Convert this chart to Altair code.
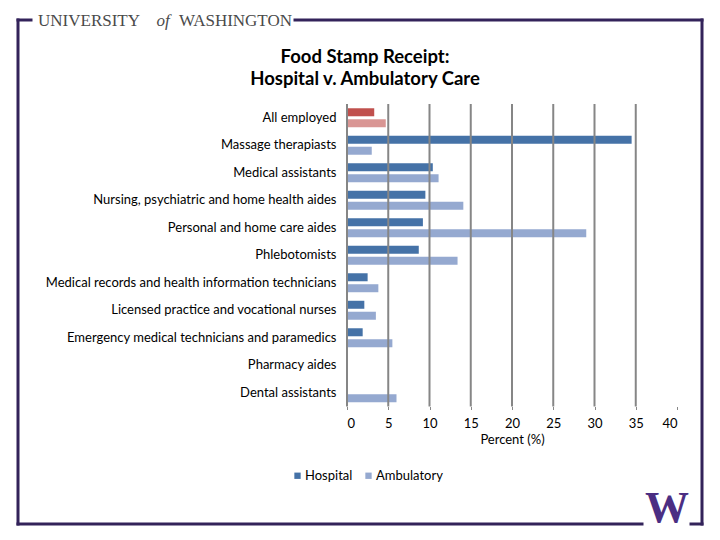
import altair as alt
import pandas as pd

categories = [
    "All employed",
    "Massage therapiasts",
    "Medical assistants",
    "Nursing, psychiatric and home health aides",
    "Personal and home care aides",
    "Phlebotomists",
    "Medical records and health information technicians",
    "Licensed practice and vocational nurses",
    "Emergency medical technicians and paramedics",
    "Pharmacy aides",
    "Dental assistants",
]
hospital = [3.3, 34.5, 10.4, 9.5, 9.2, 8.7, 2.5, 2.1, 1.9, 0.0, 0.0]
ambulatory = [4.7, 3.0, 11.1, 14.1, 29.0, 13.4, 3.8, 3.5, 5.5, 0.0, 6.0]
series = ["Hospital", "Ambulatory"]
x_ticks = [0, 5, 10, 15, 20, 25, 30, 35, 40]
grid_values = [0, 5, 10, 15, 20, 25, 30, 35]

color_domain = ["Hospital", "Ambulatory", "All employed Hospital", "All employed Ambulatory"]
color_range = ["#4572A7", "#95A9D0", "#C0504D", "#D99694"]

rows = []
for c, h, a in zip(categories, hospital, ambulatory):
    for s, v in zip(series, [h, a]):
        key = ("All employed " + s) if c == "All employed" else s
        rows.append({"category": c, "series": s, "value": v, "colorKey": key})
df = pd.DataFrame(rows)

FONT = "Lato"
FS = 13

bars = alt.Chart(df).mark_bar().encode(
    x=alt.X(
        "value:Q",
        scale=alt.Scale(domain=[0, 40], nice=False),
        axis=alt.Axis(
            values=x_ticks, grid=False, domain=False, tickSize=3, tickColor="#888888",
            labelFont=FONT, labelFontSize=FS, labelColor="black", labelPadding=8,
            title="Percent (%)", titleFont=FONT, titleFontWeight="normal",
            titleFontSize=FS, titleColor="black", titlePadding=3,
        ),
    ),
    y=alt.Y(
        "category:N", sort=categories,
        scale=alt.Scale(paddingInner=0.31, paddingOuter=0.155),
        axis=alt.Axis(
            title=None, domain=False, ticks=False, labelPadding=11,
            labelFont=FONT, labelFontSize=FS, labelColor="black", labelLimit=400,
        ),
    ),
    yOffset=alt.YOffset("series:N", sort=series, scale=alt.Scale(paddingInner=0.27, paddingOuter=0)),
    color=alt.Color(
        "colorKey:N",
        scale=alt.Scale(domain=color_domain, range=color_range),
        legend=alt.Legend(
            values=series, orient="none", legendX=-56, legendY=365,
            direction="horizontal", title=None, symbolType="square", symbolSize=40,
            labelFont=FONT, labelFontSize=FS, labelColor="black",
            columnPadding=9, labelOffset=1, symbolStrokeWidth=0,
        ),
    ),
)

grid = alt.Chart(pd.DataFrame({"g": grid_values})).mark_rule(
    color="#868686", strokeWidth=2
).encode(x=alt.X("g:Q", title="Percent (%)"))

one = pd.DataFrame({"a": [0]})
PURPLE = "#33235A"


def seg(x1, x2, y1, y2):
    return alt.Chart(one).mark_rule(color=PURPLE, strokeWidth=3, strokeCap="square").encode(
        x=alt.value(x1), x2=alt.value(x2), y=alt.value(y1), y2=alt.value(y2)
    )


frame = [
    seg(-329, -316, -84, -84),
    seg(-52, 355, -84, -84),
    seg(-329, -329, -84, 420),
    seg(355, 355, -84, 420),
    seg(-329, 295, 420, 420),
    seg(344, 355, 420, 420),
]


def txt(s, x, y, **kw):
    return alt.Chart(one).mark_text(text=s, **kw).encode(x=alt.value(x), y=alt.value(y))


HF = dict(font="Liberation Serif", fontSize=17, color="#4a4a4a", baseline="alphabetic")
header = [
    txt("UNIVERSITY", -309, -78, align="left", **HF),
    txt("of", -184, -78, fontStyle="italic", align="center", **HF),
    txt("WASHINGTON", -55, -78, align="right", **HF),
    txt("W", 320, 418, font="Liberation Serif", fontSize=44, fontWeight="bold", color="#4B2E83", align="center", baseline="alphabetic"),
    txt("Food Stamp Receipt:", 18, -47, font=FONT, fontSize=18.5, fontWeight="bold", color="black", align="center", baseline="middle"),
    txt("Hospital v. Ambulatory Care", 18, -25, font=FONT, fontSize=18.5, fontWeight="bold", color="black", align="center", baseline="middle"),
]

chart = alt.layer(bars, grid, *frame, *header).properties(
    width=330, height=302.5,
    autosize=alt.AutoSizeParams(type="none"),
    padding={"left": 339, "top": 96, "right": 35, "bottom": 125},
).configure_view(stroke=None)

chart.save("out.html", embed_options={"renderer": "svg", "actions": False})
